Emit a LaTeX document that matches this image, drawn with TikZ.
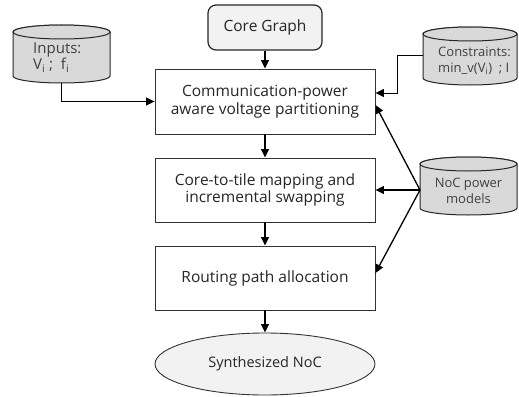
\documentclass[tikz,border=0pt]{standalone}
\usepackage{fontspec}
\setmainfont{Open Sans}
\usetikzlibrary{arrows.meta,shapes.geometric}
\definecolor{txt}{HTML}{262626}
\definecolor{cyltxt}{HTML}{404040}
\definecolor{cylfill}{HTML}{D9D9D9}
\definecolor{lightfill}{HTML}{F2F2F2}
\begin{document}
\begin{tikzpicture}[x=1pt,y=-1pt,
  box/.style={draw=black!80, line width=0.9pt, fill=white, minimum width=220pt, minimum height=64pt, align=center, inner sep=0pt, font=\fontsize{15.5}{17.5}\selectfont, text=txt},
  arr/.style={line width=1.3pt, -{Triangle[length=8.5pt,width=8pt]}},
  cyl/.style={draw=black!85, line width=1pt, fill=cylfill},
  cylnode/.style={inner sep=0pt, outer sep=0pt},
  cyltext/.style={inner sep=0pt, text=cyltxt},
  ]
\useasboundingbox (0,0) rectangle (519,396);

% process boxes
\node[box, draw=black!85, line width=1.2pt, fill=lightfill, rounded corners=8pt, minimum width=114pt, minimum height=45pt] (cg) at (265,27.5) {Core Graph};
\node[box, minimum height=65pt] (b1) at (265,101.5) {Communication-power\\aware voltage partitioning};
\node[box] (b2) at (265,190) {Core-to-tile mapping and\\incremental swapping};
\node[box] (b3) at (265,278) {Routing path allocation};
\node[box, ellipse, fill=lightfill, minimum width=220pt, minimum height=62pt, font=\fontsize{14.5}{17}\selectfont] (syn) at (265,364) {Synthesized NoC};

% cylinders (invisible named frames)
\node[cylnode, minimum width=97pt, minimum height=58pt] (inp) at (61.5,54) {};
\node[cylnode, minimum width=94pt, minimum height=58pt] (con) at (470,56) {};
\node[cylnode, minimum width=97pt, minimum height=58pt] (noc) at (468.5,186) {};

\foreach \c/\rx in {inp/48.5, con/47, noc/48.5}{
  \path[cyl] ([yshift=-7pt]\c.north west) -- ([yshift=7pt]\c.south west)
     arc[start angle=180,end angle=360,x radius=\rx pt,y radius=7pt]
     -- ([yshift=-7pt]\c.north east)
     arc[start angle=0,end angle=180,x radius=\rx pt,y radius=7pt] -- cycle;
  \draw[cyl] ([yshift=-7pt]\c.north) ellipse[x radius=\rx pt,y radius=7pt];
}

\node[cyltext, anchor=west, align=left, font=\fontsize{15}{16.5}\selectfont] (inptxt) at (33,57.5) {Inputs:\\V\textsubscript{i}\ ;\ \ f\textsubscript{i}};
\node[cyltext, anchor=west, align=left, font=\fontsize{13}{15.5}\selectfont] (contxt) at (438,61) {Constraints:\\min\_v(V\textsubscript{i})\ \ ;\ I};
\node[cyltext, align=center, font=\fontsize{13}{16}\selectfont] (noctxt) at (468.5,191) {NoC power\\models};

% main flow
\draw[arr] (cg) -- (b1);
\draw[arr] (b1) -- (b2);
\draw[arr] (b2) -- (b3);
\draw[arr] (b3) -- (syn);

% inputs and constraints
\draw[arr, line width=1.1pt] (inp.south) |- (b1);
\draw[arr, line width=1pt] (con.west) -- ++(-26,0) |- ([yshift=8.5pt]b1.east);

% power models
\coordinate (nocin) at ([yshift=-4pt]noc.west);
\draw[arr] (nocin) -- ([yshift=-3.5pt]b1.east);
\draw[arr] (nocin) -- (b2.east);
\draw[arr] (nocin) -- ([yshift=5pt]b3.east);
\end{tikzpicture}
\end{document}
